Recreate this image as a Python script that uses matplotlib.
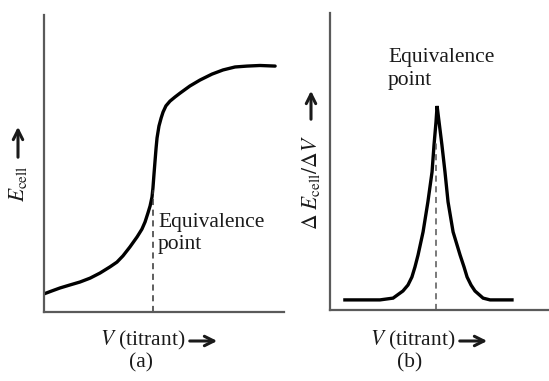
import matplotlib
matplotlib.use("Agg")
import matplotlib.pyplot as plt

plt.rcParams['font.family'] = ['Liberation Serif', 'DejaVu Serif']
plt.rcParams['mathtext.fontset'] = 'stix'

# (a) potentiometric titration curve, E_cell vs volume of titrant
vol_a = [0.00, 0.33, 0.67, 1.08, 1.50, 1.92, 2.33, 2.75, 3.04, 3.29, 3.58, 3.88,
         4.08, 4.21, 4.33, 4.42, 4.50, 4.54, 4.58, 4.63, 4.67, 4.71, 4.79, 4.88,
         4.96, 5.08, 5.25, 5.46, 5.67, 6.08, 6.50, 7.00, 7.46, 7.96, 8.46, 9.00,
         9.63]
ecell = [0.61, 0.71, 0.81, 0.91, 1.01, 1.14, 1.31, 1.52, 1.68, 1.89, 2.19, 2.53,
         2.79, 3.03, 3.33, 3.57, 3.87, 4.18, 4.61, 5.12, 5.52, 5.86, 6.26, 6.53,
         6.73, 6.94, 7.10, 7.24, 7.37, 7.61, 7.81, 8.01, 8.15, 8.25, 8.28, 8.30,
         8.28]
equiv_a = 4.54
dash_top_a = 4.1

# (b) first derivative, dE/dV vs volume of titrant
vol_b = [0.68, 2.28, 2.88, 3.33, 3.56, 3.74, 3.88, 4.02, 4.25, 4.47, 4.66, 4.75,
         4.84, 4.89, 4.98, 5.11, 5.25, 5.39, 5.62, 5.94, 6.12, 6.26, 6.44, 6.62,
         6.99, 7.31, 8.31]
deriv = [0.34, 0.34, 0.40, 0.64, 0.84, 1.11, 1.45, 1.85, 2.63, 3.64, 4.65, 5.56,
         6.33, 6.87, 6.33, 5.56, 4.65, 3.64, 2.63, 1.85, 1.45, 1.11, 0.84, 0.64,
         0.40, 0.34, 0.34]
equiv_b = 4.84
dash_top_b = 5.7

W, H = 549, 381
fig = plt.figure(figsize=(W / 100, H / 100), dpi=100)


def box(x0, y0, x1, y1):
    # pixel box (top-left origin) -> figure fractions
    return [x0 / W, 1 - y1 / H, (x1 - x0) / W, (y1 - y0) / H]


def fpx(x, y):
    return x / W, 1 - y / H


def arrow(p0, p1):
    fig.add_artist(matplotlib.patches.FancyArrowPatch(
        fpx(*p0), fpx(*p1), transform=fig.transFigure,
        arrowstyle='->', mutation_scale=17, lw=2.2, color='#1a1a1a'))


ax_a = fig.add_axes(box(44, 15, 284, 312))
ax_b = fig.add_axes(box(330, 13, 549, 310))

ax_a.plot(vol_a, ecell, color='black', lw=2.4, solid_joinstyle='round',
          solid_capstyle='round')
ax_a.plot([equiv_a, equiv_a], [0, dash_top_a], color='#333333', lw=1.1,
          dashes=(4, 3))
ax_b.plot(vol_b, deriv, color='black', lw=2.4, solid_joinstyle='miter')
ax_b.plot([equiv_b, equiv_b], [0, dash_top_b], color='#555555', lw=1.1,
          dashes=(4, 3))

for ax in (ax_a, ax_b):
    ax.set_xlim(0, 10)
    ax.set_ylim(0, 10)
    ax.set_xticks([])
    ax.set_yticks([])
    ax.spines[['top', 'right']].set_visible(False)
    for s in ('left', 'bottom'):
        ax.spines[s].set_color('#5a5a5a')
        ax.spines[s].set_linewidth(1.6)
    ax.patch.set_alpha(0)

fs = 15.5
tc = '#1a1a1a'
x, y = fpx(158, 213)
fig.text(x, y, "Equivalence\npoint", fontsize=fs, ha='left', va='top',
         linespacing=1.25, color=tc)
x, y = fpx(388, 48)
fig.text(x, y, "Equivalence\npoint", fontsize=fs, ha='left', va='top',
         linespacing=1.25, color=tc)

# x labels
for cx, lab in ((141, "(a)"), (410, "(b)")):
    x, y = fpx(cx, 363)
    fig.text(x, y, lab, fontsize=fs, ha='center', va='center', color=tc)
for x0 in (100, 370):
    x, y = fpx(x0, 340)
    fig.text(x, y, "$V$ (titrant)", fontsize=fs, ha='left', va='center',
             color=tc)
    arrow((x0 + 87, 341), (x0 + 120, 341))

# y labels
x, y = fpx(18, 184)
fig.text(x, y, r"$E_{\rm cell}$", fontsize=fs, rotation=90, ha='center',
         va='center', color=tc)
arrow((18, 160), (18, 124))

x, y = fpx(311, 183)
fig.text(x, y, r"$\Delta\ E_{\rm cell}/\Delta V$", fontsize=fs, rotation=90,
         ha='center', va='center', color=tc)
arrow((311, 122), (311, 88))

fig.savefig("out.png", dpi=100)
